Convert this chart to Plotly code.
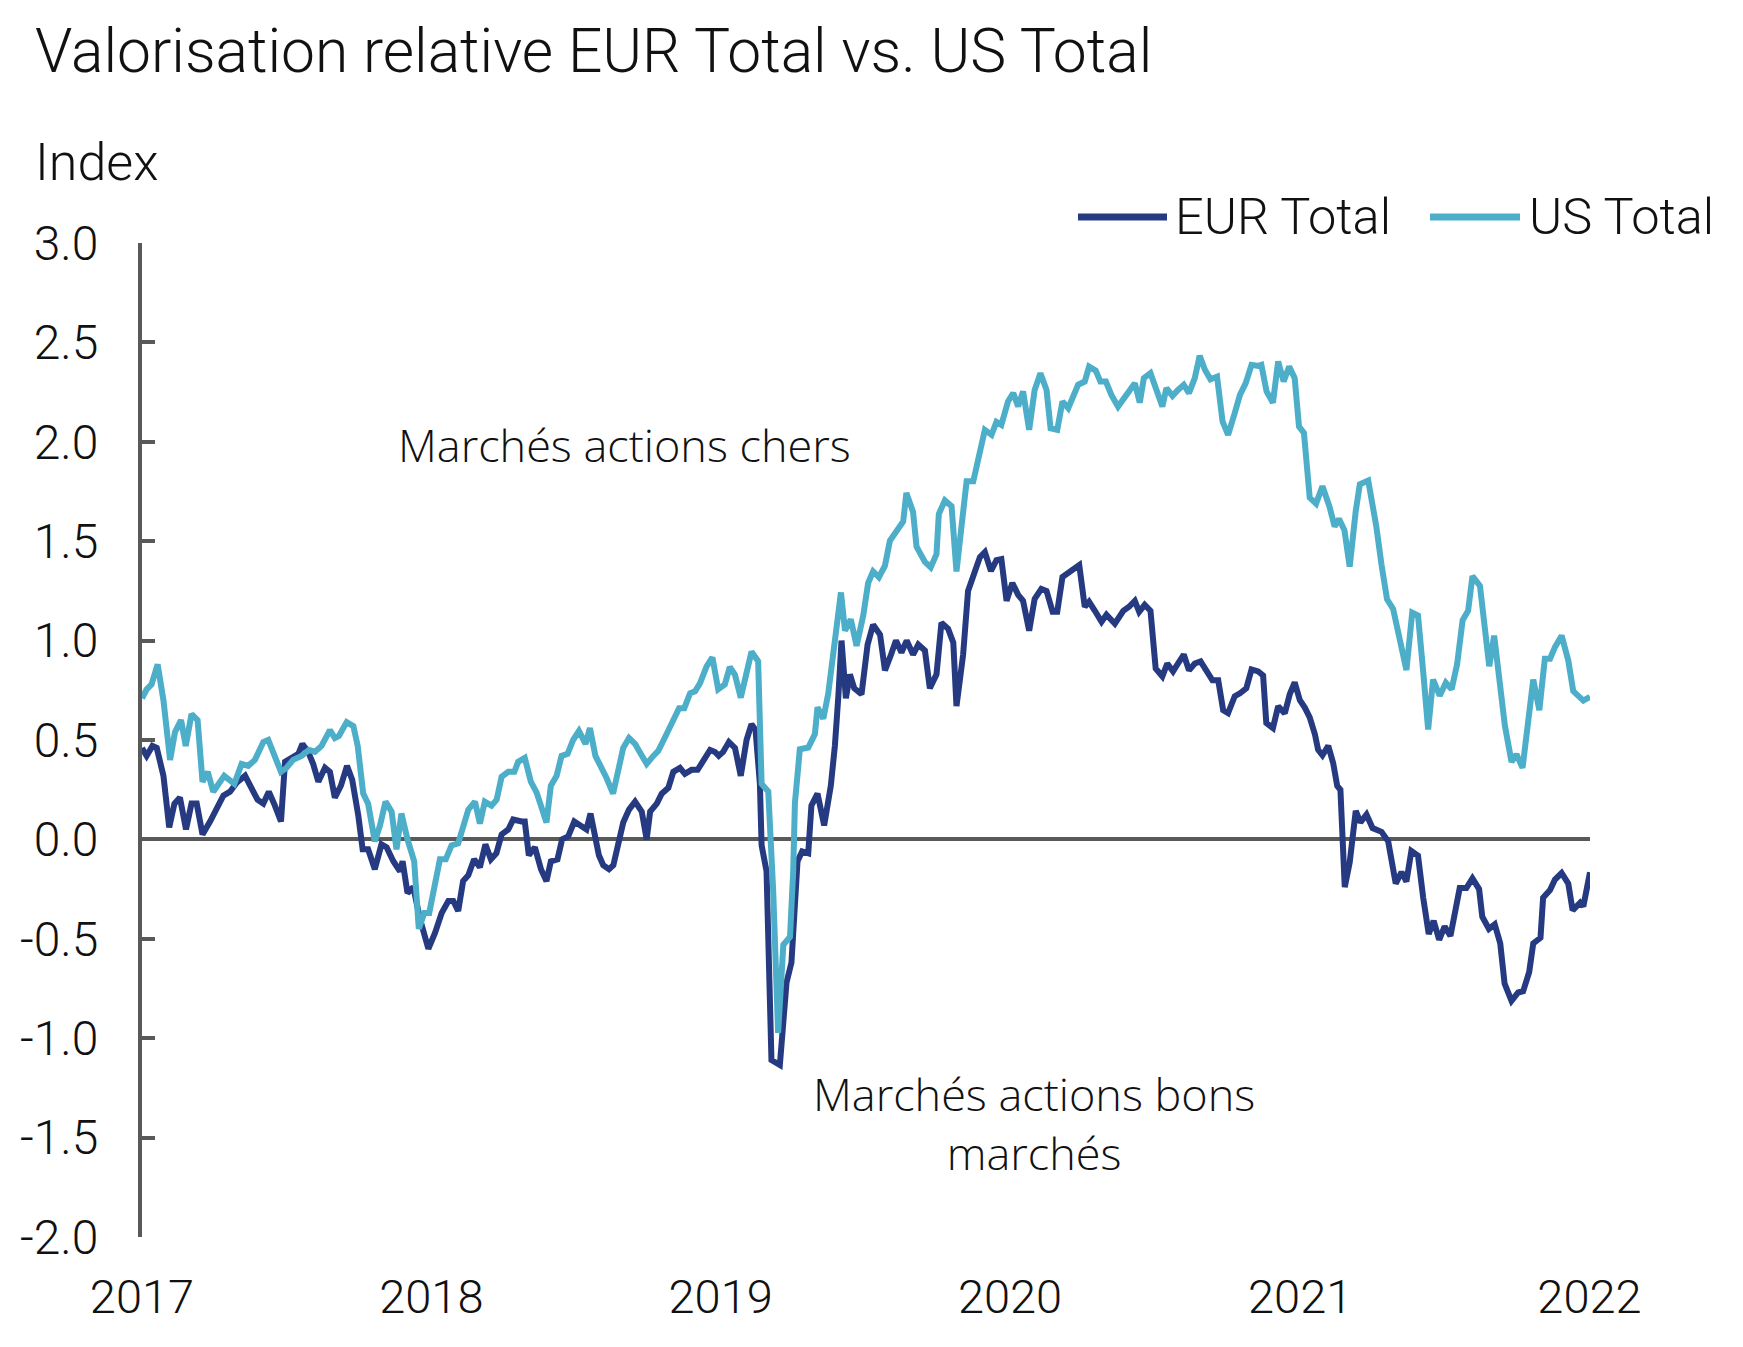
import numpy as np
import pandas as pd
import plotly.graph_objects as go

# ---- data (decimal year, index value) ----
eur_t = [2017.000, 2017.016, 2017.036, 2017.051, 2017.074, 2017.094, 2017.112, 2017.131, 2017.152, 2017.171,
         2017.189, 2017.209, 2017.235, 2017.258, 2017.281, 2017.304, 2017.327, 2017.356, 2017.376, 2017.399,
         2017.419, 2017.438, 2017.459, 2017.480, 2017.494, 2017.517, 2017.540, 2017.554, 2017.574, 2017.591,
         2017.609, 2017.632, 2017.649, 2017.666, 2017.687, 2017.708, 2017.726, 2017.747, 2017.762, 2017.781,
         2017.804, 2017.827, 2017.845, 2017.868, 2017.891, 2017.900, 2017.917, 2017.937, 2017.960, 2017.989,
         2018.012, 2018.035, 2018.058, 2018.075, 2018.092, 2018.109, 2018.127, 2018.147, 2018.167, 2018.186,
         2018.205, 2018.224, 2018.242, 2018.265, 2018.282, 2018.311, 2018.322, 2018.336, 2018.357, 2018.378,
         2018.397, 2018.412, 2018.435, 2018.451, 2018.472, 2018.493, 2018.518, 2018.535, 2018.549, 2018.564,
         2018.578, 2018.593, 2018.613, 2018.628, 2018.645, 2018.662, 2018.682, 2018.703, 2018.726, 2018.743,
         2018.755, 2018.778, 2018.795, 2018.818, 2018.835, 2018.858, 2018.875, 2018.898, 2018.919, 2018.942,
         2018.962, 2018.979, 2018.992, 2019.007, 2019.027, 2019.048, 2019.068, 2019.088, 2019.105, 2019.119,
         2019.134, 2019.140, 2019.157, 2019.174, 2019.203, 2019.226, 2019.243, 2019.264, 2019.280, 2019.301,
         2019.312, 2019.333, 2019.356, 2019.379, 2019.393, 2019.405, 2019.416, 2019.431, 2019.445, 2019.460,
         2019.485, 2019.506, 2019.525, 2019.549, 2019.566, 2019.587, 2019.604, 2019.623, 2019.641, 2019.663,
         2019.681, 2019.704, 2019.721, 2019.744, 2019.761, 2019.784, 2019.802, 2019.813, 2019.836, 2019.853,
         2019.876, 2019.894, 2019.911, 2019.932, 2019.951, 2019.968, 2019.986, 2020.006, 2020.026, 2020.043,
         2020.064, 2020.083, 2020.106, 2020.124, 2020.145, 2020.161, 2020.179, 2020.199, 2020.218, 2020.237,
         2020.256, 2020.271, 2020.291, 2020.314, 2020.331, 2020.360, 2020.389, 2020.409, 2020.429, 2020.444,
         2020.463, 2020.483, 2020.501, 2020.524, 2020.541, 2020.561, 2020.578, 2020.598, 2020.616, 2020.636,
         2020.656, 2020.679, 2020.697, 2020.717, 2020.734, 2020.751, 2020.774, 2020.792, 2020.814, 2020.832,
         2020.855, 2020.872, 2020.883, 2020.906, 2020.924, 2020.947, 2020.964, 2020.981, 2020.999, 2021.016,
         2021.033, 2021.051, 2021.062, 2021.077, 2021.097, 2021.114, 2021.128, 2021.139, 2021.154, 2021.171,
         2021.192, 2021.208, 2021.229, 2021.250, 2021.281, 2021.304, 2021.330, 2021.350, 2021.367, 2021.384,
         2021.407, 2021.425, 2021.444, 2021.461, 2021.480, 2021.499, 2021.519, 2021.551, 2021.574, 2021.595,
         2021.618, 2021.629, 2021.652, 2021.672, 2021.691, 2021.706, 2021.730, 2021.753, 2021.770, 2021.791,
         2021.805, 2021.830, 2021.839, 2021.863, 2021.880, 2021.903, 2021.926, 2021.941, 2021.967, 2021.978,
         2022.001]
eur_v = [0.46, 0.42, 0.47, 0.46, 0.32, 0.06, 0.18, 0.21, 0.05, 0.18,
         0.18, 0.025, 0.09, 0.15, 0.22, 0.24, 0.285, 0.32, 0.27, 0.20,
         0.18, 0.24, 0.17, 0.09, 0.39, 0.41, 0.43, 0.48, 0.44, 0.38,
         0.29, 0.36, 0.34, 0.21, 0.27, 0.37, 0.30, 0.12, -0.05, -0.05,
         -0.15, -0.025, -0.04, -0.11, -0.16, -0.11, -0.27, -0.24, -0.40, -0.55,
         -0.47, -0.37, -0.31, -0.31, -0.36, -0.21, -0.18, -0.10, -0.14, -0.025,
         -0.10, -0.07, 0.025, 0.05, 0.10, 0.09, 0.09, -0.08, -0.04, -0.15,
         -0.21, -0.11, -0.10, 0.0, 0.015, 0.09, 0.07, 0.05, 0.13, 0.0,
         -0.08, -0.13, -0.15, -0.13, -0.03, 0.085, 0.15, 0.19, 0.14, 0.0,
         0.14, 0.18, 0.23, 0.26, 0.34, 0.36, 0.33, 0.35, 0.35, 0.41,
         0.45, 0.44, 0.42, 0.44, 0.49, 0.46, 0.32, 0.50, 0.58, 0.55,
         0.28, -0.03, -0.16, -1.11, -1.135, -0.72, -0.62, -0.11, -0.06, -0.07,
         0.17, 0.23, 0.07, 0.27, 0.47, 0.72, 1.00, 0.71, 0.83, 0.76,
         0.73, 0.98, 1.08, 1.03, 0.85, 0.93, 1.00, 0.94, 1.00, 0.93,
         0.98, 0.95, 0.76, 0.83, 1.09, 1.06, 0.99, 0.67, 0.93, 1.25,
         1.35, 1.42, 1.445, 1.35, 1.405, 1.41, 1.20, 1.29, 1.23, 1.20,
         1.05, 1.21, 1.26, 1.25, 1.145, 1.145, 1.32, 1.34, 1.355, 1.38,
         1.17, 1.195, 1.15, 1.095, 1.13, 1.085, 1.15, 1.17, 1.20, 1.145,
         1.18, 1.15, 0.86, 0.82, 0.885, 0.845, 0.885, 0.93, 0.85, 0.885,
         0.895, 0.845, 0.80, 0.80, 0.65, 0.635, 0.72, 0.735, 0.76, 0.855,
         0.845, 0.825, 0.586, 0.56, 0.67, 0.634, 0.73, 0.79, 0.70, 0.663,
         0.614, 0.528, 0.451, 0.423, 0.471, 0.384, 0.269, 0.25, -0.24, -0.116,
         0.144, 0.086, 0.125, 0.057, 0.038, -0.01, -0.222, -0.164, -0.212, -0.058,
         -0.082, -0.294, -0.476, -0.409, -0.505, -0.438, -0.486, -0.245, -0.245, -0.196,
         -0.25, -0.389, -0.45, -0.427, -0.523, -0.725, -0.812, -0.77, -0.764, -0.667,
         -0.523, -0.495, -0.294, -0.255, -0.202, -0.169, -0.222, -0.357, -0.318, -0.337,
         -0.165]

us_t = [2017.000, 2017.016, 2017.033, 2017.054, 2017.074, 2017.097, 2017.114, 2017.135, 2017.151, 2017.171,
        2017.192, 2017.209, 2017.227, 2017.246, 2017.284, 2017.319, 2017.344, 2017.367, 2017.390, 2017.419,
        2017.436, 2017.459, 2017.480, 2017.499, 2017.522, 2017.551, 2017.577, 2017.597, 2017.620, 2017.649,
        2017.666, 2017.680, 2017.707, 2017.730, 2017.745, 2017.764, 2017.781, 2017.804, 2017.822, 2017.841,
        2017.862, 2017.879, 2017.896, 2017.917, 2017.940, 2017.956, 2017.975, 2017.992, 2018.006, 2018.029,
        2018.049, 2018.069, 2018.092, 2018.113, 2018.127, 2018.150, 2018.167, 2018.184, 2018.207, 2018.225,
        2018.242, 2018.265, 2018.286, 2018.299, 2018.322, 2018.343, 2018.363, 2018.380, 2018.397, 2018.412,
        2018.432, 2018.449, 2018.470, 2018.489, 2018.509, 2018.532, 2018.547, 2018.566, 2018.585, 2018.604,
        2018.627, 2018.645, 2018.662, 2018.682, 2018.703, 2018.723, 2018.743, 2018.766, 2018.783, 2018.800,
        2018.823, 2018.838, 2018.855, 2018.873, 2018.893, 2018.910, 2018.927, 2018.950, 2018.970, 2018.990,
        2019.013, 2019.030, 2019.048, 2019.068, 2019.088, 2019.105, 2019.128, 2019.140, 2019.163, 2019.180,
        2019.197, 2019.215, 2019.238, 2019.249, 2019.255, 2019.272, 2019.301, 2019.324, 2019.333, 2019.353,
        2019.370, 2019.387, 2019.399, 2019.414, 2019.428, 2019.448, 2019.468, 2019.491, 2019.508, 2019.525,
        2019.545, 2019.566, 2019.583, 2019.609, 2019.629, 2019.640, 2019.663, 2019.675, 2019.704, 2019.724,
        2019.744, 2019.752, 2019.773, 2019.796, 2019.813, 2019.830, 2019.848, 2019.871, 2019.888, 2019.911,
        2019.934, 2019.951, 2019.968, 2019.991, 2020.009, 2020.026, 2020.043, 2020.064, 2020.083, 2020.103,
        2020.124, 2020.138, 2020.161, 2020.179, 2020.199, 2020.218, 2020.233, 2020.256, 2020.271, 2020.294,
        2020.310, 2020.329, 2020.348, 2020.371, 2020.391, 2020.411, 2020.429, 2020.446, 2020.460, 2020.483,
        2020.504, 2020.524, 2020.538, 2020.559, 2020.578, 2020.598, 2020.616, 2020.636, 2020.653, 2020.671,
        2020.690, 2020.713, 2020.732, 2020.751, 2020.774, 2020.792, 2020.812, 2020.832, 2020.855, 2020.866,
        2020.884, 2020.906, 2020.924, 2020.943, 2020.962, 2020.981, 2020.996, 2021.013, 2021.033, 2021.055,
        2021.077, 2021.102, 2021.119, 2021.134, 2021.153, 2021.171, 2021.192, 2021.206, 2021.235, 2021.263,
        2021.281, 2021.300, 2021.321, 2021.344, 2021.367, 2021.387, 2021.407, 2021.425, 2021.442, 2021.459,
        2021.482, 2021.503, 2021.523, 2021.542, 2021.561, 2021.580, 2021.595, 2021.621, 2021.638, 2021.653,
        2021.670, 2021.690, 2021.707, 2021.730, 2021.747, 2021.768, 2021.788, 2021.805, 2021.826, 2021.845,
        2021.863, 2021.880, 2021.903, 2021.926, 2021.943, 2021.961, 2021.978, 2022.001]
us_v = [0.71, 0.755, 0.78, 0.88, 0.70, 0.40, 0.54, 0.60, 0.47, 0.63,
        0.60, 0.29, 0.34, 0.24, 0.32, 0.28, 0.38, 0.37, 0.40, 0.49,
        0.50, 0.42, 0.34, 0.36, 0.40, 0.42, 0.45, 0.44, 0.47, 0.55,
        0.51, 0.52, 0.59, 0.57, 0.47, 0.23, 0.18, -0.01, 0.07, 0.19,
        0.14, -0.05, 0.13, 0.0, -0.11, -0.45, -0.37, -0.37, -0.28, -0.10,
        -0.10, -0.03, -0.02, 0.10, 0.15, 0.19, 0.08, 0.19, 0.17, 0.20,
        0.315, 0.34, 0.34, 0.39, 0.41, 0.29, 0.235, 0.16, 0.085, 0.27,
        0.32, 0.42, 0.43, 0.50, 0.545, 0.48, 0.56, 0.42, 0.37, 0.31,
        0.23, 0.34, 0.46, 0.51, 0.48, 0.43, 0.38, 0.42, 0.445, 0.495,
        0.56, 0.61, 0.66, 0.66, 0.735, 0.745, 0.785, 0.87, 0.915, 0.755,
        0.78, 0.867, 0.828, 0.713, 0.838, 0.944, 0.896, 0.279, 0.241, -0.26,
        -0.973, -0.53, -0.49, -0.164, 0.183, 0.453, 0.462, 0.530, 0.664, 0.607,
        0.732, 0.934, 1.107, 1.242, 1.050, 1.107, 0.973, 1.127, 1.290, 1.348,
        1.319, 1.377, 1.502, 1.560, 1.599, 1.743, 1.647, 1.473, 1.396, 1.368,
        1.435, 1.637, 1.705, 1.676, 1.348, 1.570, 1.801, 1.801, 1.908, 2.06,
        2.035, 2.10, 2.085, 2.203, 2.245, 2.178, 2.253, 2.06, 2.261, 2.345,
        2.261, 2.068, 2.06, 2.203, 2.169, 2.228, 2.287, 2.303, 2.378, 2.358,
        2.303, 2.303, 2.236, 2.177, 2.22, 2.265, 2.295, 2.197, 2.32, 2.345,
        2.261, 2.177, 2.27, 2.231, 2.261, 2.287, 2.245, 2.32, 2.433, 2.362,
        2.315, 2.328, 2.102, 2.035, 2.144, 2.236, 2.295, 2.387, 2.382, 2.387,
        2.253, 2.197, 2.404, 2.303, 2.378, 2.32, 2.077, 2.045, 1.719, 1.689,
        1.776, 1.670, 1.574, 1.612, 1.555, 1.372, 1.652, 1.786, 1.805, 1.574,
        1.381, 1.208, 1.160, 0.996, 0.852, 1.141, 1.127, 0.842, 0.553, 0.804,
        0.723, 0.788, 0.755, 0.881, 1.102, 1.150, 1.324, 1.275, 1.035, 0.871,
        1.025, 0.804, 0.573, 0.390, 0.428, 0.360, 0.592, 0.804, 0.650, 0.909,
        0.909, 0.967, 1.025, 0.900, 0.746, 0.717, 0.698, 0.717]

series_names = ["EUR Total", "US Total"]
series_colors = ["#263a82", "#4caec8"]
y_tickvals = [-2.0, -1.5, -1.0, -0.5, 0.0, 0.5, 1.0, 1.5, 2.0, 2.5, 3.0]
y_ticktext = ["-2.0", "-1.5", "-1.0", "-0.5", "0.0", "0.5", "1.0", "1.5", "2.0", "2.5", "3.0"]
x_years = [2017, 2018, 2019, 2020, 2021, 2022]


def to_dates(ts):
    ts = np.asarray(ts, dtype=float)
    return pd.Timestamp("2017-01-01") + pd.to_timedelta((ts - 2017.0) * 365.25, unit="D")


eur_d = to_dates(eur_t)
us_d = to_dates(us_t)

MAIN_FONT = "Roboto"
ANNOT_FONT = "Open Sans"
GRAY = "#595959"
TXT = "#111111"

fig = go.Figure()
fig.add_trace(go.Scatter(x=eur_d, y=eur_v, mode="lines", name=series_names[0],
                         line=dict(color=series_colors[0], width=6), showlegend=False))
fig.add_trace(go.Scatter(x=us_d, y=us_v, mode="lines", name=series_names[1],
                         line=dict(color=series_colors[1], width=6), showlegend=False))

W, H = 1743, 1347
OFF = 8                    # page body margin of the html page
PL, PR, PT, PB = 142, 1590, 243, 1237   # plot area in page pixels
L, T = PL - OFF, PT - OFF
R, B = W - PR + OFF, H - PB + OFF
pw, ph = PR - PL, PB - PT


def px_x(p):
    return (p - PL) / pw


def px_y(p):
    return (PB - p) / ph


fig.update_layout(
    width=W, height=H, autosize=False,
    margin=dict(l=L, r=R, t=T, b=B, pad=0),
    paper_bgcolor="white", plot_bgcolor="white",
    font=dict(family=MAIN_FONT, size=47, color=TXT, weight=300),
    title=dict(text="Valorisation relative EUR Total vs. US Total",
               font=dict(family=MAIN_FONT, size=60.5, color=TXT, weight=300),
               x=(35 - OFF) / W, xref="container", xanchor="left",
               y=1 - (51 - OFF) / H, yref="container", yanchor="middle"),
    showlegend=False,
    xaxis=dict(type="date", range=[eur_d[0], eur_d[-1]],
               tickvals=[pd.Timestamp(f"{y}-01-01") for y in x_years],
               ticktext=[str(y) for y in x_years],
               showline=False, showgrid=False, zeroline=False, ticks="",
               tickfont=dict(size=47), ticklabelstandoff=28),
    yaxis=dict(range=[-2.0, 3.0], tickvals=y_tickvals, ticktext=y_ticktext,
               showline=True, linecolor=GRAY, linewidth=4,
               ticks="inside", ticklen=13, tickwidth=4, tickcolor=GRAY,
               showgrid=False, zeroline=True, zerolinecolor=GRAY, zerolinewidth=4,
               tickfont=dict(size=48), ticklabelstandoff=30),
)

annotations = [
    dict(text="Index", x=px_x(33), y=px_y(163), xref="paper", yref="paper",
         xanchor="left", yanchor="middle", showarrow=False,
         font=dict(family=MAIN_FONT, size=52, color=TXT, weight=300)),
    dict(text="Marchés actions chers", x=px_x(624), y=px_y(444), xref="paper", yref="paper",
         xanchor="center", yanchor="middle", showarrow=False,
         font=dict(family=ANNOT_FONT, size=45, color=TXT)),
    dict(text="Marchés actions bons<br>marchés", x=px_x(1034), y=px_y(1123), xref="paper", yref="paper",
         xanchor="center", yanchor="middle", showarrow=False, align="center",
         font=dict(family=ANNOT_FONT, size=45, color=TXT)),
]

# legend (swatch line + label) drawn in the reference style
legend_items = [(series_names[0], series_colors[0], 1078, 1167, 1173),
                (series_names[1], series_colors[1], 1430, 1520, 1527)]
shapes = []
for name, col, x0, x1, xt in legend_items:
    shapes.append(dict(type="line", xref="paper", yref="paper",
                       x0=px_x(x0), x1=px_x(x1), y0=px_y(217), y1=px_y(217),
                       line=dict(color=col, width=7)))
    annotations.append(dict(text=name, x=px_x(xt), y=px_y(216), xref="paper", yref="paper",
                            xanchor="left", yanchor="middle", showarrow=False,
                            font=dict(family=MAIN_FONT, size=50.5, color=TXT, weight=300)))

fig.update_layout(annotations=annotations, shapes=shapes)

fig.write_html("out.html")
